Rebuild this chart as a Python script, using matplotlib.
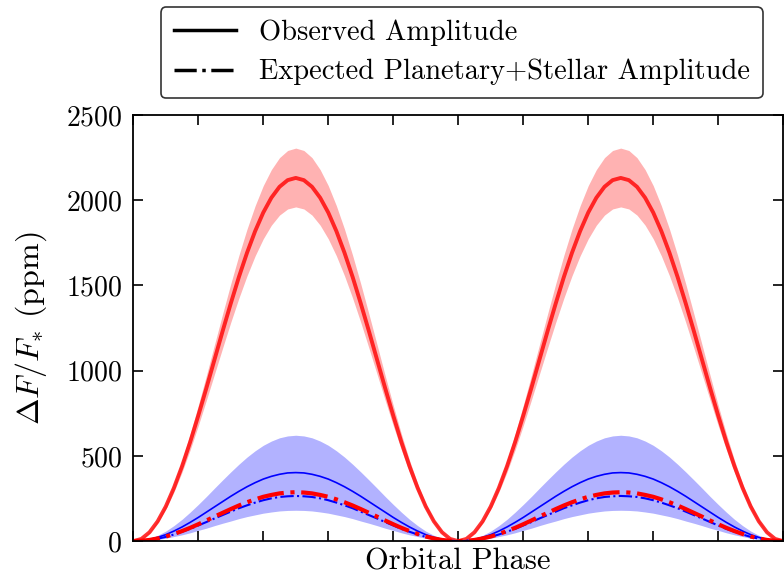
import matplotlib
matplotlib.use("Agg")
import matplotlib.pyplot as plt
import numpy as np
from matplotlib.lines import Line2D

plt.rcParams['font.family'] = 'serif'
plt.rcParams['font.serif'] = ['cmr10']
plt.rcParams['mathtext.fontset'] = 'cm'
plt.rcParams['axes.formatter.use_mathtext'] = True

# values read from phase 0 to the peak at 0.25 (step 0.0125);
# each hump is symmetric and the second half of the orbit repeats the first
phase = np.linspace(0, 1, 81)

obs_red = [0, 13, 52, 116, 203, 312, 439, 581, 736, 898, 1065,
           1232, 1394, 1549, 1691, 1818, 1927, 2014, 2078, 2117, 2130]
obs_red_lo = [0, 12, 48, 107, 187, 287, 404, 535, 677, 827, 980,
              1133, 1283, 1425, 1556, 1673, 1773, 1853, 1912, 1948, 1960]
obs_red_hi = [0, 14, 56, 126, 220, 338, 475, 629, 796, 972, 1153,
              1333, 1509, 1676, 1830, 1967, 2085, 2179, 2249, 2291, 2305]

obs_blue = [0, 2, 10, 22, 38, 59, 83, 110, 139, 170, 201,
            232, 263, 292, 319, 343, 364, 380, 392, 400, 402]
obs_blue_lo = [0, 1, 4, 10, 17, 27, 37, 49, 63, 76, 91,
               105, 118, 132, 144, 154, 164, 171, 177, 180, 181]
obs_blue_hi = [0, 4, 15, 34, 59, 91, 128, 170, 215, 262, 311,
               359, 406, 451, 493, 530, 562, 587, 606, 617, 621]

exp_red = [0, 2, 7, 16, 27, 42, 59, 78, 99, 121, 144,
           166, 188, 209, 228, 245, 260, 271, 280, 285, 287]
exp_blue = [0, 2, 6, 14, 25, 39, 55, 72, 92, 112, 133,
            153, 173, 193, 210, 226, 240, 251, 259, 263, 265]


def full_orbit(v):
    hump = v + v[-2::-1]
    return np.array(hump + hump[1:])


fig = plt.figure(figsize=(7.84, 5.8), dpi=100)
ax = fig.add_axes([0.17, 0.067, 0.829, 0.735])

ax.fill_between(phase, full_orbit(obs_red_lo), full_orbit(obs_red_hi),
                color='red', alpha=0.3, lw=0)
ax.fill_between(phase, full_orbit(obs_blue_lo), full_orbit(obs_blue_hi),
                color='blue', alpha=0.3, lw=0)
ax.plot(phase, full_orbit(obs_red), color='red', lw=2.8, alpha=0.8)
ax.plot(phase, full_orbit(obs_blue), color='blue', lw=1.2)
ax.plot(phase, full_orbit(exp_blue), color='blue', lw=1.5, ls='-.')
ax.plot(phase, full_orbit(exp_red), color='red', lw=3, ls='-.')

ax.set_xlim(0, 1)
ax.set_ylim(0, 2500)
ax.set_xticks(np.arange(0, 1.01, 0.1))
ax.set_xticklabels([])
ax.set_yticks(np.arange(0, 2501, 500))
ax.tick_params(direction='in', top=True, right=True, length=7, width=1.2,
               labelsize=20, pad=8)
for s in ax.spines.values():
    s.set_linewidth(1.3)

ax.set_xlabel('Orbital Phase', fontsize=22, labelpad=-3)
ax.set_ylabel(r'$\Delta F/F_{*}$ (ppm)', fontsize=23, labelpad=12)

handles = [Line2D([], [], color='black', lw=2.5),
           Line2D([], [], color='black', lw=2.5, ls='-.')]
leg = fig.legend(handles, ['Observed Amplitude',
                           'Expected Planetary+Stellar Amplitude'],
                 loc='lower center', bbox_to_anchor=(0.589, 0.806),
                 fontsize=20.5, frameon=True, handlelength=2.2, fancybox=True,
                 borderpad=0.45, labelspacing=0.45)
leg.get_frame().set_edgecolor('black')
leg.get_frame().set_linewidth(1.2)

fig.savefig('out.png', dpi=100)
